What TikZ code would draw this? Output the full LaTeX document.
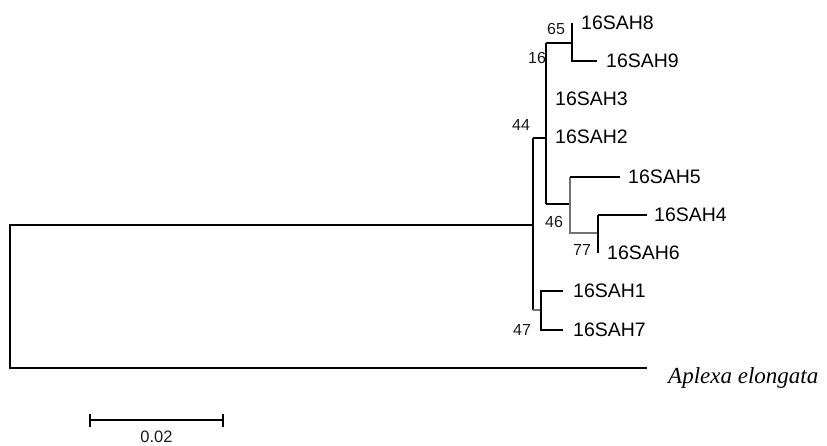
\documentclass[tikz,border=0pt]{standalone}
\usepackage{fontspec}
\setmainfont{Liberation Sans}
\newfontfamily\aplexafont{Liberation Serif}
\begin{document}
\begin{tikzpicture}[x=1pt,y=-1pt,
  br/.style={line width=1.2pt,black},
  gbr/.style={line width=1.2pt,black!55},
  rootbr/.style={line width=1.8pt,black},
  tiplab/.style={anchor=west,inner sep=0pt,font=\fontsize{19.5}{20}\selectfont},
  boot/.style={inner sep=0pt,font=\fontsize{16}{16}\selectfont,text=black!90},
  barlab/.style={inner sep=0pt,font=\fontsize{16.5}{16.5}\selectfont,text=black!90}]
\useasboundingbox (0,0) rectangle (827,446);
% coordinates
\coordinate (rt) at (10,225);
\coordinate (rb) at (10,368);
\coordinate (nA) at (533,225);
\coordinate (c1) at (533,138);
\coordinate (c2) at (533,310);
\coordinate (n44) at (546,138);
\coordinate (d1) at (546,43);
\coordinate (d2) at (546,204);
\coordinate (t3) at (546,99);
\coordinate (t2) at (546,137);
\coordinate (e0) at (572,43);
\coordinate (t8) at (572,23);
\coordinate (e2) at (572,61);
\coordinate (t9) at (597,61);
\coordinate (f0) at (570,204);
\coordinate (f1) at (570,177);
\coordinate (f2) at (570,233);
\coordinate (t5) at (620,177);
\coordinate (g0) at (598,233);
\coordinate (g1) at (598,215);
\coordinate (t6) at (598,253);
\coordinate (t4) at (647,215);
\coordinate (h0) at (541,310);
\coordinate (h1) at (541,291);
\coordinate (h2) at (541,330);
\coordinate (t1) at (563,291);
\coordinate (t7) at (563,330);
\coordinate (tap) at (647,368);
% branches
\draw[rootbr] (nA) -- (rt) -- (rb) -- (tap);
\draw[br] (c1) -- (c2);
\draw[br] (c1) -- (n44);
\draw[br] (d1) -- (d2);
\draw[line width=1.8pt] (546,70) -- (t3);
\draw[br] (d1) -- (e0);
\draw[br] (t8) -- (e2) -- (t9);
\draw[br] (d2) -- (f0);
\draw[gbr] (f1) -- (f2) -- (g0);
\draw[br] (f1) -- (t5);
\draw[br] (g1) -- (t6);
\draw[br] (g1) -- (t4);
\draw[gbr] (c2) -- (h0);
\draw[br] (t1) -- (h1) -- (h2) -- (t7);
% tip labels
\node[tiplab] (l8) at ([xshift=9pt]t8) {16SAH8};
\node[tiplab] (l9) at ([xshift=9pt]t9) {16SAH9};
\node[tiplab] (l3) at ([xshift=9pt]t3) {16SAH3};
\node[tiplab] (l2) at ([xshift=9pt]t2) {16SAH2};
\node[tiplab] (l5) at ([xshift=8pt]t5) {16SAH5};
\node[tiplab] (l4) at ([xshift=7pt]t4) {16SAH4};
\node[tiplab] (l6) at ([xshift=9pt]t6) {16SAH6};
\node[tiplab] (l1) at ([xshift=10pt]t1) {16SAH1};
\node[tiplab] (l7) at ([xshift=10pt]t7) {16SAH7};
\node[anchor=base west,inner sep=0pt,font=\aplexafont\itshape\fontsize{23}{24}\selectfont] (lap) at (668,383) {Aplexa elongata};
% bootstrap values
\node[boot] (b65) at (556,29) {65};
\node[boot] (b16) at (537,58) {16};
\node[boot] (b44) at (521,125) {44};
\node[boot] (b46) at (554,222) {46};
\node[boot] (b77) at (582,250) {77};
\node[boot] (b47) at (522,330) {47};
% scale bar
\coordinate (s1) at (90,420);
\coordinate (s2) at (223,420);
\draw[line width=1.2pt] (s1) -- (s2);
\draw[line width=1.8pt] ([yshift=-6.5pt]s1) -- ([yshift=6.5pt]s1);
\draw[line width=1.8pt] ([yshift=-6.5pt]s2) -- ([yshift=6.5pt]s2);
\node[barlab] (sl) at (156.5,437) {0.02};
\end{tikzpicture}
\end{document}
